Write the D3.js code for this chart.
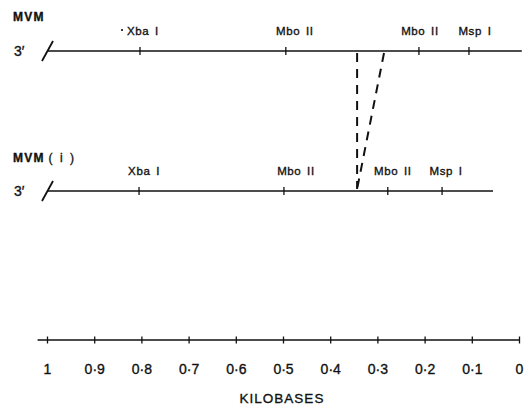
<!DOCTYPE html>
<html>
<head>
<meta charset="utf-8">
<script src="https://cdn.jsdelivr.net/npm/d3@7"></script>
<style>
  body { margin: 0; background: #fff; }
  text { font-family: "Liberation Sans", Arial, sans-serif; fill: #111; stroke: #111; stroke-width: 0.35px; }
</style>
</head>
<body>
<svg id="chart" width="530" height="406"></svg>
<script>
const width = 530;
const height = 406;

// kilobase axis
const axisTicks = [1, 0.9, 0.8, 0.7, 0.6, 0.5, 0.4, 0.3, 0.2, 0.1, 0];

// restriction sites, in kb from the right end
const siteNames = ["Xba I", "Mbo II", "Mbo II", "Msp I"];
const mvmSites = [0.803, 0.494, 0.212, 0.106];
const mvmiSites = [0.805, 0.498, 0.278, 0.163];

// extent of each map line (kb)
const mvmSpan = [1.0, -0.006];
const mvmiSpan = [1.0, 0.055];

// deleted region of MVM, collapsed to one point on MVM(i)
const deletionMvm = [0.343, 0.286];
const deletionMvmi = 0.343;

// label nudges (px) so the names sit like the original
const mvmLabelDx = [3, 9, 1, 6];
const mvmiLabelDx = [5, 12, 5, 4];

const svg = d3.select("#chart");
const x = d3.scaleLinear().domain([1, 0]).range([47, 519]);

const yMvm = 51;
const yMvmi = 191;
const yAxis = 340;

function drawMap(name, suffix, y, span, sites, labelDx, nameY) {
    const g = svg.append("g");
    const title = g.append("text").attr("x", 13).attr("y", nameY)
        .style("font-size", "12px");
    title.append("tspan").style("font-weight", "bold")
        .style("letter-spacing", "1.2px").text(name);
    if (suffix) {
        title.append("tspan").style("letter-spacing", "2px")
            .attr("dx", 4).text(suffix);
    }
    g.append("text").attr("x", 14).attr("y", y + 5)
        .style("font-size", "14px")
        .text("3\u2032");
    const x0 = x(span[0]);
    g.append("line")
        .attr("x1", x0).attr("x2", x(span[1]))
        .attr("y1", y).attr("y2", y)
        .attr("stroke", "#111").attr("stroke-width", 1.7);
    // break mark at the 3' end
    g.append("line")
        .attr("x1", x0 - 5).attr("y1", y + 10)
        .attr("x2", x0 + 6).attr("y2", y - 10)
        .attr("stroke", "#111").attr("stroke-width", 1.8);
    g.selectAll(".site").data(sites).enter()
        .append("line")
        .attr("x1", d => x(d)).attr("x2", d => x(d))
        .attr("y1", y - 4).attr("y2", y + 4)
        .attr("stroke", "#111").attr("stroke-width", 1.3);
    g.selectAll(".lab").data(sites).enter()
        .append("text")
        .attr("x", (d, i) => x(d) + labelDx[i])
        .attr("y", y - 16)
        .attr("text-anchor", "middle")
        .style("font-size", "11.5px")
        .style("letter-spacing", "0.6px")
        .style("word-spacing", "2px")
        .text((d, i) => siteNames[i]);
}

drawMap("MVM", null, yMvm, mvmSpan, mvmSites, mvmLabelDx, 21);
drawMap("MVM", "( i )", yMvmi, mvmiSpan, mvmiSites, mvmiLabelDx, 162);

// stray speck next to the first Xba I label
svg.append("circle").attr("cx", x(mvmSites[0]) - 18).attr("cy", 30)
    .attr("r", 1.1).attr("fill", "#111");

// dashed lines showing the deletion
svg.selectAll(".del").data(deletionMvm).enter()
    .append("line")
    .attr("x1", d => x(d)).attr("y1", yMvm + 2)
    .attr("x2", x(deletionMvmi)).attr("y2", yMvmi - 2)
    .attr("stroke", "#111").attr("stroke-width", 2)
    .attr("stroke-dasharray", "9,7");

// kilobase scale
const axis = d3.axisBottom(x)
    .tickValues(axisTicks)
    .tickSize(0)
    .tickFormat(d => d === 0 || d === 1 ? String(d) : d3.format(".1f")(d).replace(".", "\u00b7"));

const ax = svg.append("g").attr("transform", `translate(0,${yAxis})`).call(axis);
ax.select(".domain").remove();
ax.selectAll(".tick text")
    .attr("y", 34).attr("dy", null)
    .style("font-family", "\"Liberation Sans\", Arial, sans-serif")
    .style("font-size", "14px").attr("fill", "#111");
ax.selectAll(".tick line")
    .attr("y1", -3.5).attr("y2", 3.5)
    .attr("stroke", "#111").attr("stroke-width", 1.3);
ax.append("line")
    .attr("x1", x(1.02)).attr("x2", x(0))
    .attr("stroke", "#111").attr("stroke-width", 1.7);

svg.append("text").attr("x", 282).attr("y", 403)
    .attr("text-anchor", "middle")
    .style("font-size", "13.5px").style("letter-spacing", "1px")
    .text("KILOBASES");
</script>
</body>
</html>
